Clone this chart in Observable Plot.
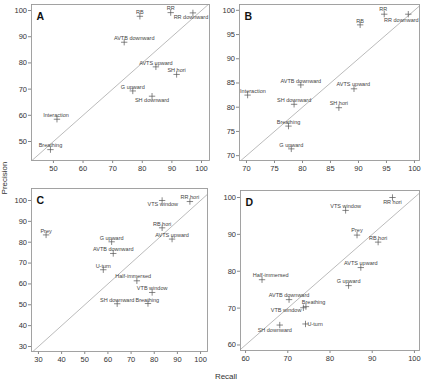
<!DOCTYPE html>
<html>
<head>
<meta charset="utf-8">
<script src="https://cdn.jsdelivr.net/npm/d3@7"></script>
<script src="https://cdn.jsdelivr.net/npm/@observablehq/plot@0.6"></script>
<style>
  body { margin: 0; background: #fff; }
  #chart { position: relative; width: 424px; height: 381px; overflow: hidden;
           font-family: "Liberation Sans", Arial, sans-serif; }
  .panel { position: absolute; }
  .overlay { position: absolute; left: 0; top: 0; pointer-events: none; }
</style>
</head>
<body>
<div id="chart"></div>
<script>
// ---- Panel A ----
const namesA = ["RB", "RR", "RR downward", "AVTB downward", "AVTS upward", "SH hori",
                "G upward", "SH downward", "Interaction", "Breathing"];
const recallA = [79.2, 89.6, 97.1, 73.9, 84.6, 91.6, 76.8, 83.3, 51.2, 49.0];
const precisionA = [97.8, 99.2, 99.1, 87.9, 78.5, 75.6, 69.3, 67.3, 58.5, 46.9];

// ---- Panel B ----
const namesB = ["RR", "RR downward", "RB", "AVTB downward", "AVTS upward", "Interaction",
                "SH downward", "SH hori", "Breathing", "G upward"];
const recallB = [94.6, 98.9, 90.3, 79.7, 89.2, 70.2, 78.5, 86.5, 77.5, 78.0];
const precisionB = [99.2, 99.2, 97.0, 84.6, 83.8, 82.5, 80.6, 79.9, 76.1, 71.4];

// ---- Panel C ----
const namesC = ["VTS window", "RR hori", "Prey", "RB hori", "AVTS upward", "G upward",
                "AVTB downward", "U-turn", "Half-immersed", "VTB window", "SH downward", "Breathing"];
const recallC = [83.4, 95.4, 33.3, 83.4, 87.7, 61.6, 62.3, 58.0, 72.5, 79.1, 64.0, 77.3];
const precisionC = [100.0, 99.5, 83.5, 86.9, 81.5, 80.2, 74.6, 66.8, 61.5, 55.9, 50.5, 50.6];

// ---- Panel D ----
const namesD = ["RR hori", "VTS window", "Prey", "RB hori", "AVTS upward", "Half-immersed",
                "G upward", "AVTB downward", "Breathing", "VTB window", "U-turn", "SH downward"];
const recallD = [94.8, 83.7, 86.4, 91.4, 87.3, 63.9, 84.4, 70.3, 74.3, 73.7, 74.2, 68.1];
const precisionD = [100.0, 96.5, 89.8, 87.9, 81.0, 77.7, 76.1, 72.3, 70.4, 70.1, 65.7, 65.4];

// Tick values
const ticksA = [50, 60, 70, 80, 90, 100];
const ticksB = [70, 75, 80, 85, 90, 95, 100];
const ticksCx = [30, 40, 50, 60, 70, 80, 90, 100];
const ticksCy = [30, 40, 50, 60, 70, 80, 90, 100];
const ticksD = [60, 70, 80, 90, 100];

// Label placement around each marker: [dx, dy, textAnchor]; default is centred above
const spotsA = {
  "RR downward": [-2, 4.5], "AVTB downward": [10, -4], "SH downward": [0, 4.5],
  "Interaction": [-1, -3.6]
};
const spotsB = {
  "RR": [-1, -5], "RR downward": [-7, 6], "AVTS upward": [-0.7, -5], "Interaction": [5.3, -4.3]
};
const spotsC = {
  "VTS window": [0.7, 4], "Half-immersed": [-3.7, -4.7], "SH downward": [0, -3.4],
  "Breathing": [-0.7, -3.4]
};
const spotsD = {
  "RR hori": [0, 5], "Prey": [0, -4.7], "Half-immersed": [8.7, -4.3], "Breathing": [7.7, -4.7],
  "VTB window": [-2, 2.3, "end"], "U-turn": [2, 0.3, "start"], "SH downward": [-5, 5.3]
};

const chart = document.getElementById("chart");

function panel(cfg) {
  const rows = cfg.names.map((name, i) => ({name, recall: cfg.recall[i], precision: cfg.precision[i]}));
  const lo = Math.min(cfg.xDomain[0], cfg.yDomain[0]);
  const hi = Math.max(cfg.xDomain[1], cfg.yDomain[1]);
  const labels = rows.map(r => {
    const [dx, dy, anchor] = cfg.spots[r.name] ?? [0, -4];
    return Plot.text([r], {
      x: "recall", y: "precision", text: "name",
      dx, dy, textAnchor: anchor ?? "middle",
      fontSize: 5.5, fill: "#444"
    });
  });
  const svg = Plot.plot({
    width: cfg.width, height: cfg.height,
    marginLeft: cfg.m[0], marginRight: cfg.m[1], marginTop: cfg.m[2], marginBottom: cfg.m[3],
    x: {domain: cfg.xDomain},
    y: {domain: cfg.yDomain},
    style: {fontFamily: "'Liberation Sans', Arial, sans-serif", fontSize: "7.5px", color: "#333", background: "transparent"},
    marks: [
      Plot.axisX({ticks: cfg.xTicks, tickSize: 3, tickPadding: 2, label: null, stroke: "#888"}),
      Plot.axisY({ticks: cfg.yTicks, tickSize: 3, tickPadding: 1.5, label: null, stroke: "#888"}),
      Plot.line([[lo, lo], [hi, hi]], {x: d => d[0], y: d => d[1], stroke: "#aaa", strokeWidth: 0.8, clip: true}),
      Plot.frame({stroke: "#999", strokeWidth: 0.9}),
      Plot.dot(rows, {x: "recall", y: "precision", symbol: "plus", r: 2.2, stroke: "#555", strokeWidth: 0.7}),
      ...labels,
      Plot.text([cfg.letter], {frameAnchor: "top-left", dx: 5, dy: 8, text: d => d,
        fontSize: 10.5, fontWeight: "bold", fill: "#111"})
    ]
  });
  svg.classList.add("panel");
  svg.style.left = cfg.left + "px";
  svg.style.top = cfg.top + "px";
  chart.appendChild(svg);
}

panel({letter: "A", names: namesA, recall: recallA, precision: precisionA, spots: spotsA,
  xDomain: [42.6, 102.7], yDomain: [42.75, 102.3], xTicks: ticksA, yTicks: ticksA,
  left: 0, top: 0, width: 212, height: 182, m: [31, 3, 4, 22]});
panel({letter: "B", names: namesB, recall: recallB, precision: precisionB, spots: spotsB,
  xDomain: [68.75, 100.9], yDomain: [69, 101.2], xTicks: ticksB, yTicks: ticksB,
  left: 212, top: 0, width: 212, height: 182, m: [27, 5, 4, 22]});
panel({letter: "C", names: namesC, recall: recallC, precision: precisionC, spots: spotsC,
  xDomain: [27, 103], yDomain: [27.6, 105.75], xTicks: ticksCx, yTicks: ticksCy,
  left: 0, top: 185, width: 212, height: 196, m: [31, 5, 3, 30]});
panel({letter: "D", names: namesD, recall: recallD, precision: precisionD, spots: spotsD,
  xDomain: [58.8, 101.2], yDomain: [58.5, 101.9], xTicks: ticksD, yTicks: ticksD,
  left: 212, top: 185, width: 212, height: 196, m: [28, 5, 5, 31]});

// Shared axis titles
const overlay = d3.select(chart).append("svg")
  .attr("class", "overlay").attr("width", 424).attr("height", 381)
  .style("font-family", "'Liberation Sans', Arial, sans-serif").style("font-size", "8px");
overlay.append("text")
  .attr("transform", "translate(7,178) rotate(-90)")
  .attr("text-anchor", "middle").attr("fill", "#333").text("Precision");
overlay.append("text")
  .attr("x", 226).attr("y", 379)
  .attr("text-anchor", "middle").attr("fill", "#333").text("Recall");
</script>
</body>
</html>
